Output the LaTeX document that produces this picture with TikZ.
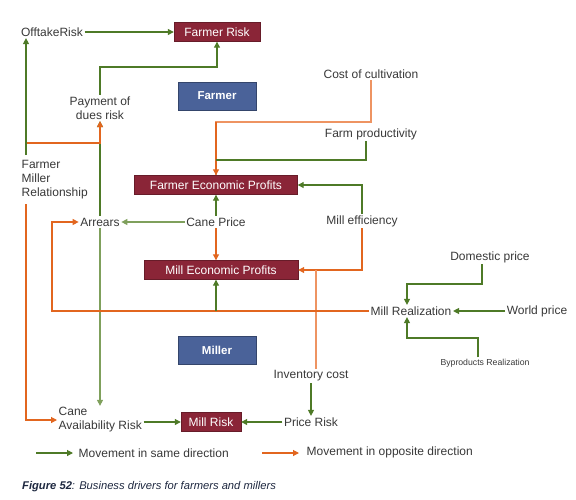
\documentclass[tikz,border=0pt]{standalone}
\usepackage{fontspec}
\setmainfont{Liberation Sans}
\usetikzlibrary{arrows.meta,positioning}
\definecolor{samedir}{HTML}{4E7A27}
\definecolor{samesoft}{HTML}{7FA05C}
\definecolor{oppdir}{HTML}{E2661F}
\definecolor{oppsoft}{HTML}{EE9462}
\definecolor{riskred}{HTML}{8A2537}
\definecolor{roleblue}{HTML}{4A6299}
\definecolor{txtgray}{HTML}{383838}
\definecolor{captxt}{HTML}{1E2840}

\begin{document}
\begin{tikzpicture}[
  x=1pt, y=-1pt,
  font=\fontsize{12}{14}\selectfont,
  lbl/.style={
    text=txtgray,
    inner sep=1.5pt,
    align=center
  },
  riskbox/.style={
    fill=riskred,
    draw=riskred!75!black,
    text=white,
    minimum height=19pt,
    inner sep=2pt
  },
  rolebox/.style={
    fill=roleblue,
    draw=roleblue!70!black,
    text=white,
    minimum width=78pt,
    minimum height=28pt,
    font=\fontsize{11.5}{14}\selectfont\bfseries
  },
  same/.style={-{Triangle[length=6pt,width=6pt]},samedir,line width=1.1pt},
  samefade/.style={same,samesoft},
  opp/.style={-{Triangle[length=6pt,width=6pt]},oppdir,line width=1.1pt},
  oppline/.style={oppsoft,line width=1.1pt}
]
  \useasboundingbox (0,0) rectangle (576,499);

  % farmer side
  \node[lbl] (offtake) at (52,32) {OfftakeRisk};
  \node[riskbox,minimum width=86pt] (frisk) at (217,32) {Farmer Risk};
  \node[lbl] (payment) at (100,108) {Payment of\\dues risk};
  \node[rolebox] (farmer) at (217,96) {Farmer};
  \node[lbl] (cost) at (371,74) {Cost of cultivation};
  \node[lbl] (prod) at (371,134) {Farm productivity};
  \node[lbl,align=left,anchor=west] (fmr) at (20,180) {Farmer\\Miller\\Relationship};
  \node[riskbox,minimum width=163pt] (fep) at (216,185) {Farmer Economic Profits};
  \node[lbl] (arrears) at (100,222) {Arrears};
  \node[lbl] (cane) at (216,222) {Cane Price};
  \node[lbl] (eff) at (362,221) {Mill efficiency};

  % miller side
  \node[riskbox,minimum width=154pt] (mep) at (221,270) {Mill Economic Profits};
  \node[lbl] (domestic) at (490,257) {Domestic price};
  \node[lbl] (realiz) at (411,311) {Mill Realization};
  \node[lbl] (world) at (537,311) {World price};
  \node[lbl,font=\fontsize{8.7}{10}\selectfont] (byprod) at (485,363) {Byproducts Realization};
  \node[rolebox] (miller) at (217,350) {Miller};
  \node[lbl] (inv) at (311,376) {Inventory cost};
  \node[lbl] (price) at (311,422) {Price Risk};
  \node[riskbox,minimum width=60pt] (mrisk) at (211,422) {Mill Risk};
  \node[lbl,align=left,anchor=west] (avail) at (57,420) {Cane\\Availability Risk};

  % bends and joins
  \coordinate (payturn) at (100,67);
  \coordinate (costturn) at (371,122);
  \coordinate (prodturn) at (366,160);
  \coordinate (prodjoin) at (216,160);
  \coordinate (fmrup) at (26,155);
  \coordinate (relturn) at (26,143);
  \coordinate (fmrdown) at (26,204);
  \coordinate (loopturn) at (52,311);
  \coordinate (mepfeed) at (216,311);
  \coordinate (invjoin) at (316,270);
  \coordinate (domturn) at (482,284);
  \coordinate (byturn) at (478,338);

  \draw[same] (offtake) -- (frisk);
  \draw[same] (payment.north) -- (payturn) -| (frisk.south);
  \draw[oppline] (cost.south) -- (costturn) -| (fep.north);
  \draw[opp] (costturn -| fep.north) -- (fep.north);
  \draw[samedir,line width=1.1pt] (prod.south -| prodturn) -- (prodturn) -- (prodjoin);
  \draw[same] (eff.north) |- (fep.east);
  \draw[opp] (eff.south) |- (mep.east);
  \draw[oppline] (inv.north -| invjoin) -- (invjoin);
  \draw[same] (cane.north) -- (fep.south);
  \draw[opp] (cane.south) -- (cane.south |- mep.north);
  \draw[samefade] (cane.west) -- (cane.west -| arrears.east);
  \draw[samefade] (arrears.south) -- (arrears.south |- avail.north);
  \draw[opp] (realiz.west) -- (loopturn) |- (arrears.west);
  \draw[same] (mepfeed) -- (mepfeed |- mep.south);
  \draw[same] (arrears.north) -- (payment.south);
  \draw[opp] (relturn) -| (payment.south);
  \draw[same] (fmrup) -- (fmrup |- offtake.south);
  \draw[opp] (fmrdown) |- (avail.west);
  \draw[same] (avail.east |- mrisk.west) -- (mrisk.west);
  \draw[same] (price.west) -- (mrisk.east);
  \draw[same] (inv.south) -- (price.north);
  \draw[same] (domestic.south -| domturn) -- (domturn) -| ([xshift=-4pt]realiz.north);
  \draw[same] (byprod.north -| byturn) -- (byturn) -| ([xshift=-4pt]realiz.south);
  \draw[same] (world.west) -- (realiz.east);

  % legend
  \coordinate (samefrom) at (36,453);
  \coordinate (sameto) at (73,453);
  \coordinate (oppfrom) at (262,453);
  \coordinate (oppto) at (299,453);
  \draw[same] (samefrom) -- (sameto);
  \draw[opp] (oppfrom) -- (oppto);
  \node[lbl,anchor=west] (samekey) at (77,453) {Movement in same direction};
  \node[lbl,anchor=west] (oppkey) at (305,452) {Movement in opposite direction};

  \node[anchor=west,text=captxt,inner sep=0pt,
    font=\fontsize{11.2}{13}\selectfont\itshape] (caption) at (22,487)
    {\textbf{Figure 52}: Business drivers for farmers and millers};
\end{tikzpicture}
\end{document}
